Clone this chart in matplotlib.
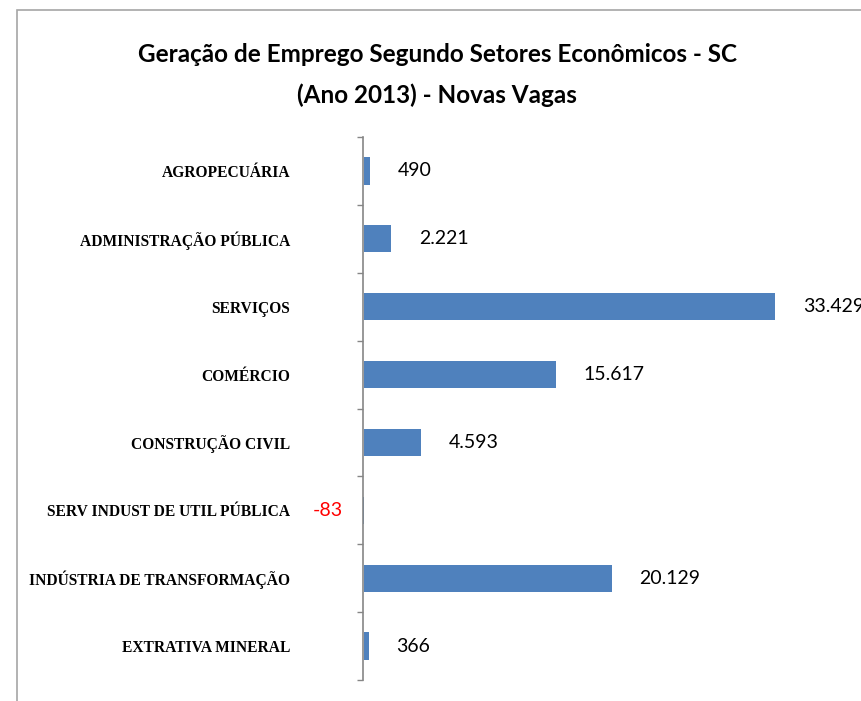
import matplotlib.pyplot as plt
from matplotlib.patches import Rectangle

# data (top to bottom as in the reference)
categories = ['AGROPECUÁRIA', 'ADMINISTRAÇÃO PÚBLICA', 'SERVIÇOS', 'COMÉRCIO',
              'CONSTRUÇÃO CIVIL', 'SERV INDUST DE UTIL PÚBLICA',
              'INDÚSTRIA DE TRANSFORMAÇÃO', 'EXTRATIVA MINERAL']
values = [490, 2221, 33429, 15617, 4593, -83, 20129, 366]
value_labels = ['490', '2.221', '33.429', '15.617', '4.593', '-83', '20.129', '366']

W, H = 861, 701
fig = plt.figure(figsize=(W/100, H/100), dpi=100)

# outer chart border (cut off at right/bottom like the screenshot)
fig.patches.append(Rectangle((17/W, -0.1), 2, 1.1 - 10/H, transform=fig.transFigure,
                             fill=False, edgecolor='#a6a6a6', linewidth=1.2))

ax = fig.add_axes([363/W, 1 - 680/H, 1 - 363/W, (680 - 137)/H])
ypos = list(range(len(categories)))[::-1]
ax.barh(ypos, values, height=0.4, color='#4f81bd')
ax.set_ylim(-0.5, len(categories) - 0.5)
ax.set_xlim(-83, (861 - 363) / 412 * 33429)

ax.set_yticks(ypos)
ax.set_yticklabels(categories, family='Liberation Serif', fontweight='bold', fontsize=11.2)
ax.tick_params(axis='y', length=0, pad=52.5)
ax.set_yticks([y - 0.5 for y in range(len(categories) + 1)], minor=True)
ax.tick_params(axis='y', which='minor', length=4, color='#868686', width=1)
ax.set_xticks([])
for s in ['top', 'right', 'bottom']:
    ax.spines[s].set_visible(False)
ax.spines['left'].set_color('#868686')
ax.spines['left'].set_linewidth(1.2)

for y, v, lab in zip(ypos, values, value_labels):
    if v < 0:
        ax.annotate(lab, (0, y), xytext=(-15, 0), textcoords='offset points',
                    ha='right', va='center', color='red', fontsize=14, family='Lato',
                    annotation_clip=False)
    else:
        ax.annotate(lab, (v, y), xytext=(20, 0), textcoords='offset points',
                    ha='left', va='center', color='black', fontsize=14, family='Lato',
                    annotation_clip=False)

fig.text(437/W, 1 - 55/H, 'Geração de Emprego Segundo Setores Econômicos - SC',
         ha='center', va='center', fontsize=17.5, fontweight='bold', family='Lato')
fig.text(437/W, 1 - 95/H, '(Ano 2013) - Novas Vagas',
         ha='center', va='center', fontsize=17.5, fontweight='bold', family='Lato')

fig.savefig('out.png', dpi=100)
